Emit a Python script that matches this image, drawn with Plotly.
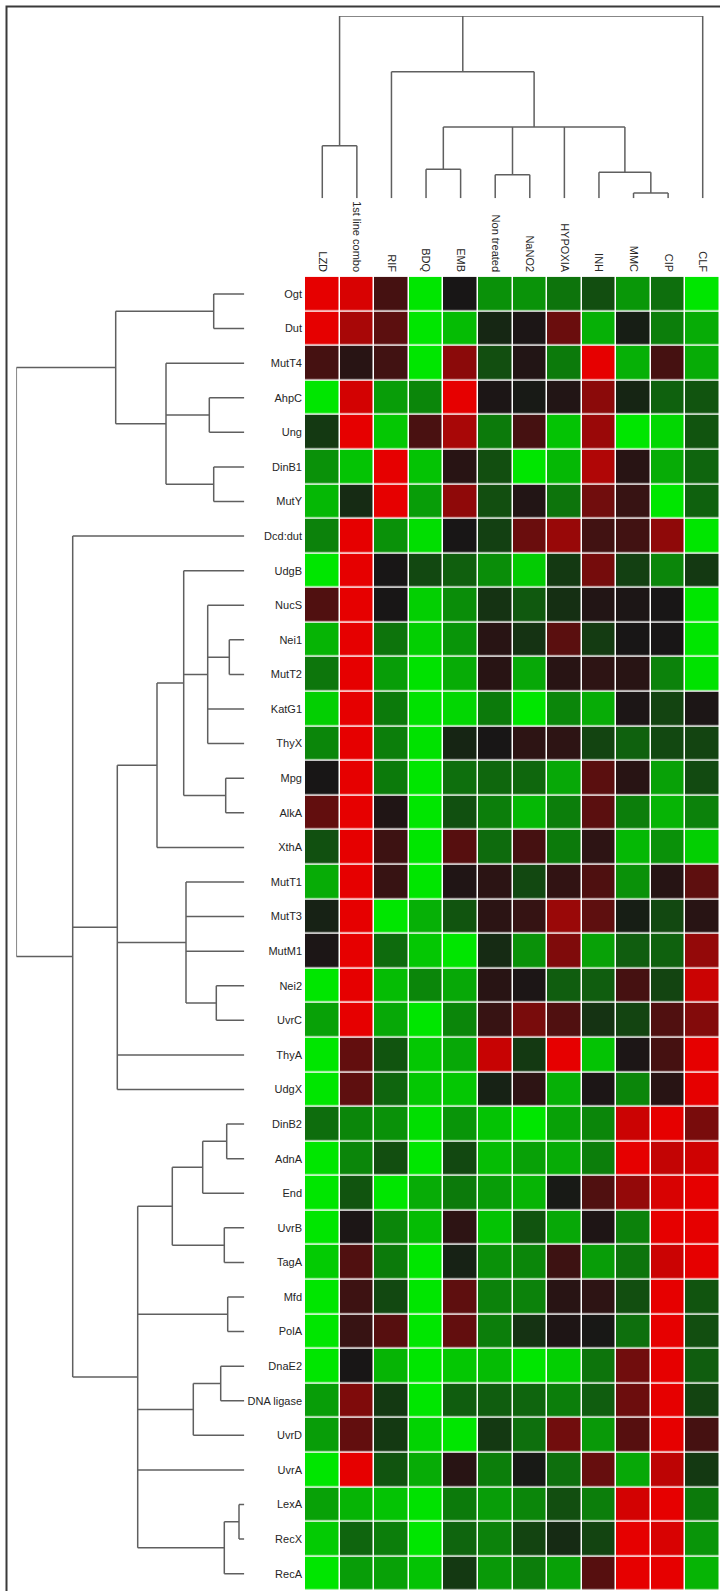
import plotly.graph_objects as go

# ---- data -----------------------------------------------------------------
columns = ["LZD", "1st line combo", "RIF", "BDQ", "EMB", "Non treated", "NaNO2",
           "HYPOXIA", "INH", "MMC", "CIP", "CLF"]

genes = ["Ogt", "Dut", "MutT4", "AhpC", "Ung", "DinB1", "MutY", "Dcd:dut", "UdgB",
         "NucS", "Nei1", "MutT2", "KatG1", "ThyX", "Mpg", "AlkA", "XthA", "MutT1",
         "MutT3", "MutM1", "Nei2", "UvrC", "ThyA", "UdgX", "DinB2", "AdnA", "End",
         "UvrB", "TagA", "Mfd", "PolA", "DnaE2", "DNA ligase", "UvrD", "UvrA",
         "LexA", "RecX", "RecA"]

# relative expression per condition (green = down, red = up), one value per gene
lzd = [1.0, 1.0, 0.22, -1.0, -0.17, -0.59, -0.78, -0.52, -1.0, 0.27, -0.76, -0.46,
       -0.89, -0.54, 0.0, 0.36, -0.28, -0.72, -0.06, 0.02, -1.0, -0.67, -1.0, -1.0,
       -0.42, -1.0, -1.0, -1.0, -0.87, -1.0, -1.0, -1.0, -0.65, -0.65, -1.0, -0.67,
       -0.87, -1.0]
first_line = [0.93, 0.7, 0.08, 0.91, 1.0, -0.83, -0.1, 1.0, 1.0, 1.0, 1.0, 1.0,
              1.0, 1.0, 1.0, 1.0, 1.0, 1.0, 1.0, 1.0, 1.0, 1.0, 0.36, 0.34,
              -0.54, -0.54, -0.3, 0.02, 0.27, 0.18, 0.15, 0.0, 0.5, 0.36, 1.0,
              -0.76, -0.38, -0.65]
rif = [0.22, 0.33, 0.2, -0.65, -0.85, 1.0, 1.0, -0.59, 0.0, 0.0, -0.45, -0.65,
       -0.48, -0.5, -0.48, 0.04, 0.18, 0.15, -1.0, -0.41, -0.8, -0.7, -0.3, -0.38,
       -0.59, -0.27, -1.0, -0.54, -0.48, -0.24, 0.3, -0.76, -0.17, -0.17, -0.3,
       -0.83, -0.5, -0.67]
bdq = [-1.0, -1.0, -1.0, -0.54, 0.24, -0.83, -0.65, -0.96, -0.24, -0.89, -0.89,
       -0.98, -0.98, -0.98, -1.0, -1.0, -1.0, -1.0, -0.74, -0.85, -0.54, -1.0,
       -0.85, -0.85, -0.96, -1.0, -0.72, -0.8, -1.0, -1.0, -1.0, -1.0, -1.0,
       -0.91, -0.72, -0.98, -1.0, -0.83]
emb = [0.0, -0.8, 0.56, 1.0, 0.7, 0.08, 0.58, 0.0, -0.35, -0.57, -0.61, -0.72,
       -0.93, -0.07, -0.43, -0.28, 0.3, 0.04, -0.3, -1.0, -0.7, -0.54, -0.7, -0.85,
       -0.61, -0.24, -0.48, 0.1, -0.06, 0.34, 0.36, -0.85, -0.34, -1.0, 0.08,
       -0.48, -0.38, -0.17]
non_treated = [-0.59, -0.08, -0.27, 0.02, -0.48, -0.27, -0.27, -0.2, -0.57, -0.14,
               0.08, 0.08, -0.48, 0.0, -0.39, -0.5, -0.41, 0.09, 0.09, -0.1, 0.08,
               0.15, 0.85, -0.06, -0.83, -0.8, -0.65, -0.83, -0.59, -0.52, -0.5,
               -0.8, -0.34, -0.17, -0.5, -0.65, -0.52, -0.63]
nano2 = [-0.6, 0.02, 0.05, -0.02, 0.22, -1.0, 0.05, 0.4, -0.87, -0.32, -0.14, -0.7,
         -1.0, 0.1, -0.39, -0.78, 0.22, -0.24, 0.14, -0.59, 0.02, 0.47, -0.17, 0.1,
         -1.0, -0.67, -0.76, -0.3, -0.54, -0.52, -0.14, -1.0, -0.38, -0.43, -0.02,
         -0.54, -0.22, -0.5]
hypoxia = [-0.45, 0.4, -0.48, 0.05, -0.83, -0.78, -0.45, 0.62, -0.17, -0.12, 0.32,
           0.08, -0.54, 0.1, -0.7, -0.5, -0.48, 0.12, 0.63, 0.5, -0.34, 0.27, 1.0,
           -0.74, -0.67, -0.72, -0.02, -0.7, 0.18, 0.08, 0.03, -0.89, -0.5, 0.43,
           -0.43, -0.27, -0.1, -0.67]
inh = [-0.27, -0.74, 1.0, 0.56, 0.63, 0.74, 0.43, 0.2, 0.45, 0.05, -0.18, 0.1,
       -0.72, -0.22, 0.32, 0.32, 0.1, 0.26, 0.34, -0.67, -0.34, -0.14, -0.83, 0.02,
       -0.54, -0.5, 0.27, 0.03, -0.65, 0.1, -0.01, -0.45, -0.34, -0.63, 0.38, -0.5,
       -0.22, 0.3]
mmc = [-0.62, -0.04, -0.74, -0.07, -1.0, 0.08, 0.15, 0.2, -0.2, 0.02, 0.0, 0.08,
       0.02, -0.36, 0.08, -0.5, -0.78, -0.59, -0.04, -0.34, 0.22, -0.22, 0.02,
       -0.54, 0.87, 1.0, 0.6, -0.52, -0.45, -0.27, -0.43, 0.43, 0.41, 0.3, -0.7,
       0.91, 1.0, 1.0]
cip = [-0.43, -0.5, 0.22, -0.36, -0.93, -0.72, -1.0, 0.58, -0.54, 0.0, 0.0, -0.52,
       -0.22, -0.24, -0.67, -0.76, -0.59, 0.07, -0.24, -0.36, -0.22, 0.27, 0.22,
       0.08, 1.0, 0.83, 0.93, 1.0, 0.87, 1.0, 1.0, 1.0, 1.0, 1.0, 0.8, 1.0, 0.93,
       1.0]
clf = [-1.0, -0.72, -0.72, -0.3, -0.3, -0.38, -0.36, -1.0, -0.17, -1.0, -1.0, -0.98,
       0.02, -0.22, -0.25, -0.52, -0.89, 0.34, 0.08, 0.6, 0.87, 0.52, 1.0, 1.0, 0.47,
       0.89, 1.0, 1.0, 1.0, -0.3, -0.27, -0.34, -0.22, 0.22, -0.17, -0.48, -0.61,
       -0.76]

# clustering trees: [merge distance, child, child, ...]; leaves are labels
column_tree = [182.3,
               [52.6, "LZD", "1st line combo"],
               [126.6, "RIF",
                [71.3,
                 [29.0, "BDQ", "EMB"],
                 [23.6, "Non treated", "NaNO2"],
                 "HYPOXIA",
                 [26.0, "INH", [5.3, "MMC", "CIP"]]]],
               "CLF"]

gene_tree = [228.0,
             [128.6,
              [30.6, "Ogt", "Dut"],
              [78.3, "MutT4", [35.0, "AhpC", "Ung"], [30.6, "DinB1", "MutY"]]],
             [171.6, "Dcd:dut",
              [127.0,
               [87.3,
                [60.6, "UdgB",
                 [36.6, "NucS", [15.0, "Nei1", "MutT2"], "KatG1", "ThyX"],
                 [18.6, "Mpg", "AlkA"]],
                "XthA"],
               [58.3, "MutT1", "MutT3", "MutM1", [28.0, "Nei2", "UvrC"]],
               "ThyA", "UdgX"],
              [106.6,
               [72.0,
                [41.6, [17.6, "DinB2", "AdnA"], "End"],
                [20.0, "UvrB", "TagA"]],
               [16.6, "Mfd", "PolA"],
               [51.0, [23.6, "DnaE2", "DNA ligase"], "UvrD"],
               "UvrA",
               [20.0, [5.3, "LexA", "RecX"], "RecA"]]]]

series = [lzd, first_line, rif, bdq, emb, non_treated, nano2, hypoxia, inh, mmc, cip, clf]
for s in series:
    assert len(s) == len(genes)
z = [[s[i] for s in series] for i in range(len(genes))]


# ---- dendrogram segments ----------------------------------------------------
def dendro_segments(tree, order):
    """Return (positions, heights) polyline lists with None breaks."""
    pos_idx = {name: i for i, name in enumerate(order)}
    ps, hs = [], []

    def walk(node):
        if isinstance(node, str):
            return pos_idx[node], 0.0
        h = node[0]
        kids = [walk(c) for c in node[1:]]
        for p, ch in kids:
            ps.extend([p, p, None])
            hs.extend([ch, h, None])
        first, last = kids[0][0], kids[-1][0]
        ps.extend([first, last, None])
        hs.extend([h, h, None])
        return (first + last) / 2.0, h

    walk(tree)
    return ps, hs


col_p, col_h = dendro_segments(column_tree, columns)
row_p, row_h = dendro_segments(gene_tree, genes)

# ---- layout geometry (pixels on a 720 x 1591 canvas) -------------------------
W, H = 720, 1591
heat_left, heat_top = 305, 276.7
col_leaf_y, col_root_y = 198.3, 16.0
row_root_x, row_leaf_x = 16.3, 244.3

heat_xdom = [heat_left / W, 1.0]
heat_ydom = [0.0, (H - heat_top) / H]

line_style = dict(color="#5f5f5f", width=1.5)
label_font = dict(family="Liberation Sans, Arial, sans-serif", size=11, color="#262626")

fig = go.Figure()

fig.add_trace(go.Heatmap(
    z=z, x=columns, y=genes,
    zmin=-1, zmax=1,
    colorscale=[[0.0, "rgb(0,230,0)"], [0.5, "rgb(24,22,22)"], [1.0, "rgb(230,0,0)"]],
    showscale=False, xgap=1.5, ygap=1.5,
    xaxis="x", yaxis="y",
))

fig.add_trace(go.Scatter(
    x=col_p, y=col_h, mode="lines", line=line_style,
    xaxis="x2", yaxis="y2", hoverinfo="skip", showlegend=False,
))

fig.add_trace(go.Scatter(
    x=row_h, y=row_p, mode="lines", line=line_style,
    xaxis="x3", yaxis="y3", hoverinfo="skip", showlegend=False,
))

hidden = dict(showgrid=False, zeroline=False, showticklabels=False, ticks="",
              showline=False)

fig.update_layout(
    width=W, height=H,
    margin=dict(l=0, r=0, t=0, b=0),
    paper_bgcolor="white", plot_bgcolor="white",
    showlegend=False,
    xaxis=dict(domain=heat_xdom, side="top", tickangle=90, ticks="",
               showgrid=False, zeroline=False, tickfont=label_font,
               anchor="y", ticklabelstandoff=2),
    yaxis=dict(domain=heat_ydom, autorange="reversed", ticks="",
               showgrid=False, zeroline=False, tickfont=label_font,
               anchor="x", ticklabelstandoff=2),
    xaxis2=dict(domain=heat_xdom, range=[-0.5, len(columns) - 0.5], anchor="y2", **hidden),
    yaxis2=dict(domain=[(H - col_leaf_y) / H, (H - col_root_y) / H],
                range=[0, column_tree[0]], anchor="x2", **hidden),
    xaxis3=dict(domain=[row_root_x / W, row_leaf_x / W],
                range=[gene_tree[0], 0], anchor="y3", **hidden),
    yaxis3=dict(domain=heat_ydom, range=[len(genes) - 0.5, -0.5], anchor="x3", **hidden),
    shapes=[
        # outer frame (left and top edges fall inside the canvas)
        dict(type="rect", xref="paper", yref="paper",
             x0=6.5 / W, x1=1.02, y0=-0.02, y1=1 - 6.5 / H,
             line=dict(color="#3a3a3a", width=2), fillcolor="rgba(0,0,0,0)",
             layer="below"),
    ],
)

fig.write_html("out.html")
